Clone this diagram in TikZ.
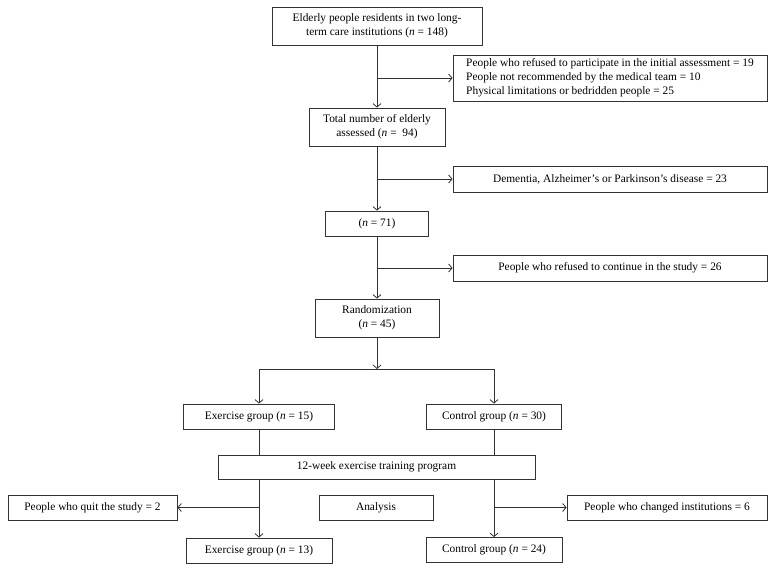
\documentclass[tikz,border=0pt]{standalone}
\usepackage{fontspec}
\setmainfont{Liberation Serif}
\usetikzlibrary{positioning}
\usetikzlibrary{arrows.meta}

\tikzset{
  box/.style={draw=black!80, line width=0.8pt, inner sep=0pt, align=center,
    font=\fontsize{11.4}{14}\selectfont},
  listbox/.style={box, align=left},
  flow/.style={draw=black!80, line width=0.8pt, >={Straight Barb[length=3.5pt,width=8pt]}},
}

\begin{document}
\begin{tikzpicture}[x=1pt, y=-1pt]
  \useasboundingbox (0,0) rectangle (776,571);

  % main column
  \node[box, minimum width=210pt, minimum height=38pt] (elderly) at (377,26) {Elderly people residents in two long-\\term care institutions (\textit{n} = 148)};
  \node[box, minimum width=136pt, minimum height=38pt] (assessed) at (377,127) {Total number of elderly\\assessed (\textit{n} =\ \ 94)};
  \node[box, minimum width=103pt, minimum height=25pt] (remain) at (377,223.5) {(\textit{n} = 71)};
  \node[box, minimum width=124pt, minimum height=38pt] (rand) at (377,318) {Randomization\\(\textit{n} = 45)};

  % exclusions
  \node[listbox, minimum width=314pt, minimum height=46pt] (refusedinit) at (610,78) {People who refused to participate in the initial assessment = 19\\People not recommended by the medical team = 10\\Physical limitations or bedridden people = 25};
  \node[box, minimum width=314pt, minimum height=26pt] (dementia) at (610,179) {Dementia, Alzheimer's or Parkinson's disease = 23};
  \node[box, minimum width=314pt, minimum height=26pt] (refusedcont) at (610,268) {People who refused to continue in the study = 26};

  % groups
  \coordinate (split) at (377,369);
  \node[box, minimum width=151pt, minimum height=25pt] (exer1) at (259,416.5) {Exercise group (\textit{n} = 15)};
  \node[box, minimum width=135pt, minimum height=25pt] (ctrl1) at (494,416.5) {Control group (\textit{n} = 30)};
  \node[box, minimum width=317pt, minimum height=24pt] (train) at (376.5,467) {12-week exercise training program};
  \node[box, minimum width=169pt, minimum height=25pt] (quit) at (92.5,507.5) {People who quit the study = 2};
  \node[box, minimum width=114pt, minimum height=25pt] (analysis) at (376,507.5) {Analysis};
  \node[box, minimum width=200pt, minimum height=25pt] (changed) at (667,507.5) {People who changed institutions = 6};
  \node[box, minimum width=146pt, minimum height=25pt] (exer2) at (259,550.5) {Exercise group (\textit{n} = 13)};
  \node[box, minimum width=136pt, minimum height=25pt] (ctrl2) at (494,550) {Control group (\textit{n} = 24)};

  \draw[flow,->] (elderly) -- (assessed);
  \draw[flow,->] (elderly.south |- refusedinit.west) -- (refusedinit.west);
  \draw[flow,->] (assessed) -- (remain);
  \draw[flow,->] (assessed.south |- dementia.west) -- (dementia.west);
  \draw[flow,->] (remain) -- (rand);
  \draw[flow,->] (remain.south |- refusedcont.west) -- (refusedcont.west);
  \draw[flow,->] (rand) -- (split);
  \draw[flow,->] (split) -| (exer1);
  \draw[flow,->] (split) -| (ctrl1);
  \draw[flow] (exer1) -- (exer1 |- train.north);
  \draw[flow] (ctrl1) -- (ctrl1 |- train.north);
  \draw[flow,->] (exer2 |- train.south) -- (exer2);
  \draw[flow,->] (ctrl2 |- train.south) -- (ctrl2);
  \draw[flow,->] (exer2.north |- quit.east) -- (quit.east);
  \draw[flow,->] (ctrl2.north |- changed.west) -- (changed.west);
\end{tikzpicture}
\end{document}
